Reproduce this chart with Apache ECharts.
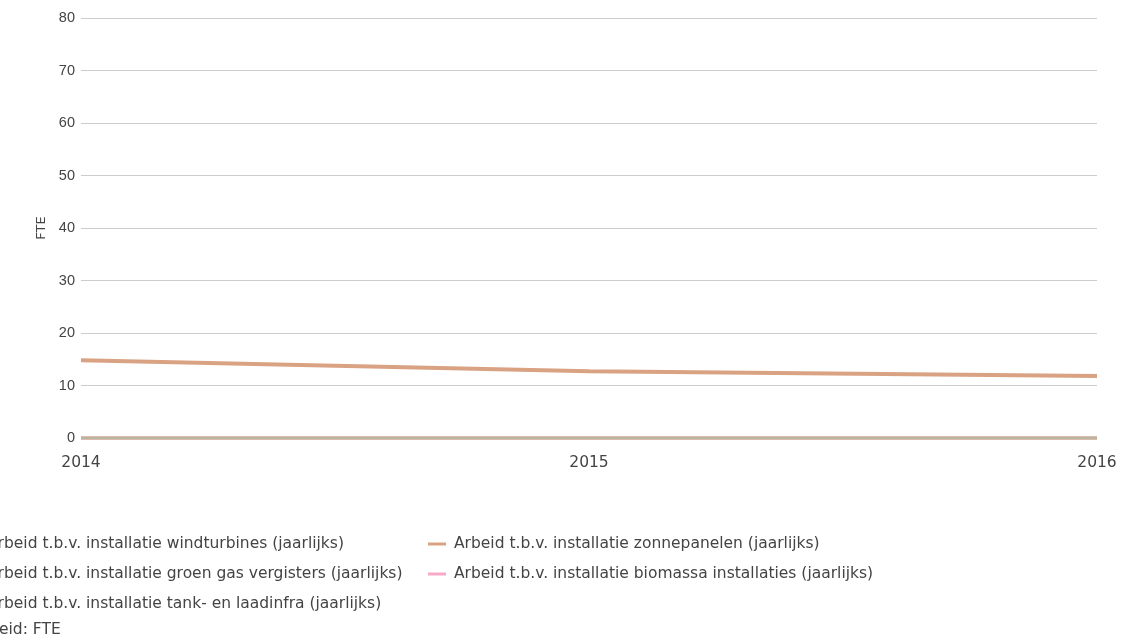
<!DOCTYPE html>
<html>
<head>
<meta charset="utf-8">
<script src="https://cdn.jsdelivr.net/npm/echarts@6/dist/echarts.min.js"></script>
<style>
  html, body { margin: 0; padding: 0; background: #fff; }
  #chart { width: 1124px; height: 642px; }
</style>
</head>
<body>
<div id="chart"></div>
<script>
// Years on the x axis
const years = ['2014', '2015', '2016'];

// Labour for installation work, FTE per year
const windturbines = [0, 0, 0];
const zonnepanelen = [14.8, 12.7, 11.8];
const groenGas = [0, 0, 0];
const biomassa = [0, 0, 0];
const tankLaadinfra = [0, 0, 0];

const names = [
  'Arbeid t.b.v. installatie windturbines (jaarlijks)',
  'Arbeid t.b.v. installatie zonnepanelen (jaarlijks)',
  'Arbeid t.b.v. installatie groen gas vergisters (jaarlijks)',
  'Arbeid t.b.v. installatie biomassa installaties (jaarlijks)',
  'Arbeid t.b.v. installatie tank- en laadinfra (jaarlijks)'
];
const colors = ['#9fb3c8', '#d9a283', '#d3d395', '#f8a9c9', '#bab4a2'];
const values = [windturbines, zonnepanelen, groenGas, biomassa, tankLaadinfra];
const widths = [3, 4, 4, 3, 2.5];

const font = 'DejaVu Sans, Verdana, sans-serif';
const axisFont = 'Liberation Sans, Arial, sans-serif';
const legendText = { color: '#444', fontSize: 15.5, lineHeight: 18, fontFamily: font, padding: [0, 0, 0, 3] };

const chart = echarts.init(document.getElementById('chart'));
chart.setOption({
  animation: false,
  color: colors,
  textStyle: { fontFamily: font },
  grid: { left: 81, right: 27, top: 18, bottom: 204, containLabel: false },
  xAxis: {
    type: 'category',
    data: years,
    boundaryGap: false,
    axisLine: { show: false },
    axisTick: { show: false },
    axisLabel: { color: '#444', fontSize: 15.5, margin: 17, fontFamily: font },
    splitLine: { show: false }
  },
  yAxis: {
    type: 'value',
    min: 0, max: 80, interval: 10,
    name: 'FTE',
    nameLocation: 'middle',
    nameGap: 32,
    nameTextStyle: { color: '#444', fontSize: 13, fontFamily: font },
    axisLine: { show: false },
    axisTick: { show: false },
    axisLabel: { color: '#444', fontSize: 14.5, margin: 6, fontFamily: axisFont },
    splitLine: { lineStyle: { color: '#cccccc', width: 1 } }
  },
  legend: [
    {
      orient: 'vertical',
      left: -44, top: 530,
      itemGap: 12,
      itemWidth: 18, itemHeight: 3,
      icon: 'rect',
      textStyle: legendText,
      data: [names[0], names[2], names[4]]
    },
    {
      orient: 'vertical',
      left: 423, top: 530,
      itemGap: 12,
      itemWidth: 18, itemHeight: 3,
      icon: 'rect',
      textStyle: legendText,
      data: [names[1], names[3]]
    }
  ],
  graphic: [
    {
      type: 'text',
      left: -40, top: 622,
      style: { text: 'Eenheid: FTE', fill: '#444', fontSize: 15.5, fontFamily: font }
    }
  ],
  series: names.map((n, i) => ({
    name: n,
    type: 'line',
    data: values[i],
    symbol: 'none',
    clip: false,
    lineStyle: { width: widths[i], color: colors[i] },
    itemStyle: { color: colors[i] },
    z: i === 1 ? 5 : 2
  }))
});
</script>
</body>
</html>
